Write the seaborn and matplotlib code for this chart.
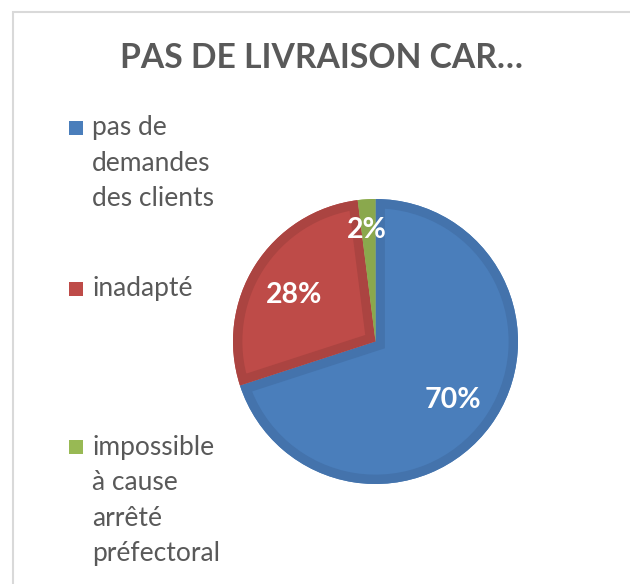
import textwrap
import matplotlib
matplotlib.use("Agg")
import matplotlib.pyplot as plt
from matplotlib.patches import Rectangle, Wedge
import seaborn as sns

title = "PAS DE LIVRAISON CAR…"
categories = ["pas de demandes des clients", "inadapté",
              "impossible à cause arrêté préfectoral"]
values = [70, 28, 2]
pct_labels = ["70%", "28%", "2%"]
fill_colors = ["#4A7EBB", "#BE4B48", "#98B954"]
edge_colors = ["#4473AC", "#AB4441", "#8AA84D"]

sns.set_theme(style="white")
plt.rcParams["font.family"] = ["Lato", "DejaVu Sans"]

W, H = 630, 584
fig = plt.figure(figsize=(W / 100, H / 100), dpi=100)
fig.patch.set_facecolor("white")

# outer frame
frame = Rectangle((13 / W, -0.1), 1.2, (H - 12) / H + 0.1, transform=fig.transFigure,
                  fill=False, edgecolor="#D9D9D9", linewidth=1.5)
fig.add_artist(frame)

fig.text(321.5 / W, 1 - 57.5 / H, title, ha="center", va="center",
         fontsize=24.2, fontweight="bold", color="#595959")

# pie axes
cx, cy, r = 375.5, 341.5, 142.5
ax = fig.add_axes([(cx - r) / W, (H - cy - r) / H, 2 * r / W, 2 * r / H])
wedges, _ = ax.pie(values, colors=fill_colors, startangle=90, counterclock=False,
                   radius=1.0, wedgeprops=dict(linewidth=0))
# inner darker border (bevel look), clipped to each slice
for w, ec in zip(wedges, edge_colors):
    st = Wedge(w.center, w.r, w.theta1, w.theta2, facecolor="none",
               edgecolor=ec, linewidth=13.5)
    ax.add_patch(st)
    st.set_clip_path(w)
ax.set_xlim(-1, 1)
ax.set_ylim(-1, 1)
ax.set_aspect("equal")
ax.axis("off")

# percentage labels (pixel positions from reference)
label_px = [(453, 400), (294, 295), (366.5, 230)]
for (px, py), t in zip(label_px, pct_labels):
    fig.text(px / W, 1 - py / H, t, ha="center", va="center", color="white",
             fontsize=20.5, fontweight="bold")

# legend
entry_top = [128, 289, 447]
line_h = 35.5
for cat, col, y0 in zip(categories, fill_colors, entry_top):
    lines = textwrap.wrap(cat, 11)
    fig.add_artist(Rectangle((69 / W, 1 - (y0 + 7) / H), 14 / W, 14 / H,
                             transform=fig.transFigure, facecolor=col, edgecolor="none"))
    for i, ln in enumerate(lines):
        fig.text(92 / W, 1 - (y0 + i * line_h) / H, ln, ha="left", va="center",
                 fontsize=19, color="#595959")

fig.savefig("out.png", dpi=100)
